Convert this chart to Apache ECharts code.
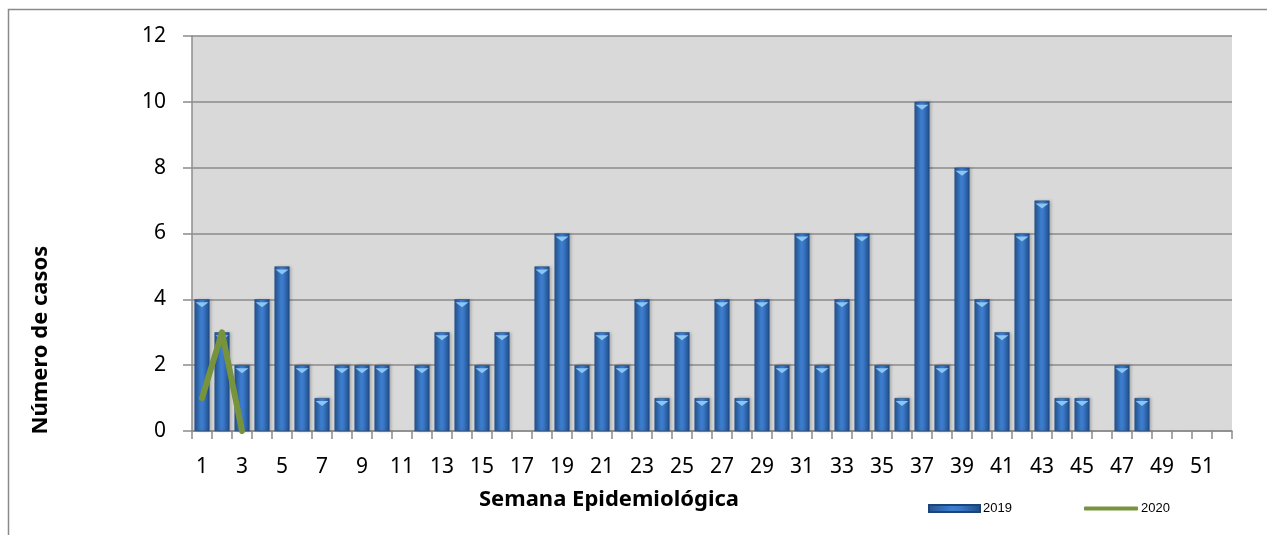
<!DOCTYPE html>
<html>
<head>
<meta charset="utf-8">
<script src="https://cdn.jsdelivr.net/npm/echarts@6/dist/echarts.min.js"></script>
<style>html,body{margin:0;padding:0;background:#fff;}#c{width:1267px;height:535px;}</style>
</head>
<body>
<div id="c"></div>
<script>
// Weeks 1..52
var weeks = [];
for (var w = 1; w <= 52; w++) weeks.push(String(w));

var cases2019 = [4,3,2,4,5,2,1,2,2,2,0,2,3,4,2,3,0,5,6,2,3,2,4,1,3,1,4,1,4,2,6,2,4,6,2,1,10,2,8,4,3,6,7,1,1,0,2,1,0,0,0,0];
var cases2020 = [1,3,0];

var yTicks = { min: 0, max: 12, interval: 2 };
var yTitle = 'Número de casos';
var xTitle = 'Semana Epidemiológica';

var FONT = '"Noto Sans", "Open Sans", sans-serif';

var chart = echarts.init(document.getElementById('c'), null, { renderer: 'canvas' });

var barGrad = new echarts.graphic.LinearGradient(0, 0, 1, 0, [
  { offset: 0, color: '#25548f' },
  { offset: 0.45, color: '#3d7ed0' },
  { offset: 0.6, color: '#3a78c7' },
  { offset: 1, color: '#204b86' }
]);

var barData = cases2019.map(function (v) { return v > 0 ? v : '-'; });
var capData = cases2019.map(function (v) { return v > 0 ? v : '-'; });

chart.setOption({
  backgroundColor: '#ffffff',
  animation: false,
  grid: { left: 192, right: 35, top: 36, bottom: 104, show: true, backgroundColor: '#d9d9d9', borderWidth: 0 },
  xAxis: {
    type: 'category',
    data: weeks,
    boundaryGap: true,
    axisLine: { show: true, lineStyle: { color: '#8c8c8c', width: 1.5 } },
    axisTick: { show: true, interval: 0, length: 8, lineStyle: { color: '#8c8c8c', width: 1.5 } },
    axisLabel: { interval: 1, color: '#000', fontSize: 21, fontFamily: FONT, margin: 26 },
    splitLine: { show: false }
  },
  yAxis: {
    type: 'value',
    min: yTicks.min, max: yTicks.max, interval: yTicks.interval,
    axisLine: { show: true, lineStyle: { color: '#8c8c8c', width: 1.5 } },
    axisTick: { show: true, length: 9, lineStyle: { color: '#8c8c8c', width: 1.5 } },
    axisLabel: { color: '#000', fontSize: 21, fontFamily: FONT, margin: 26 },
    splitLine: { show: true, lineStyle: { color: '#8a8a8a', width: 1.5 } }
  },
  legend: [
    {
      data: [{ name: '2019', icon: 'rect' }],
      left: 923, top: 497, itemWidth: 51, itemHeight: 7, itemGap: 5,
      textStyle: { fontFamily: '"Liberation Sans", Arial, sans-serif', fontSize: 13, color: '#000', padding: [0,0,0,-2] }
    },
    {
      data: [{ name: '2020', icon: 'roundRect', itemStyle: { color: '#77933c' } }],
      left: 1079, top: 497, itemWidth: 54, itemHeight: 4,
      textStyle: { fontFamily: '"Liberation Sans", Arial, sans-serif', fontSize: 13, color: '#000', padding: [0,0,0,-2] }
    }
  ],
  series: [
    {
      name: '2019',
      type: 'bar',
      data: barData,
      barWidth: 15,
      itemStyle: {
        color: barGrad,
        borderColor: '#1d4478',
        borderWidth: 0.5,
        shadowColor: 'rgba(0,0,0,0.25)',
        shadowBlur: 3,
        shadowOffsetX: 2,
        shadowOffsetY: 0
      },
      z: 2
    },
    {
      name: 'cap',
      type: 'pictorialBar',
      data: capData,
      symbol: 'triangle',
      symbolRotate: 180,
      symbolSize: [13, 5],
      symbolPosition: 'end',
      symbolOffset: [0, 3],
      itemStyle: { color: '#8cc4f2' },
      barGap: '-100%',
      z: 3,
      silent: true
    },
    {
      name: '2020',
      type: 'line',
      data: cases2020,
      symbol: 'none',
      showSymbol: false,
      lineStyle: { color: '#77933c', width: 6, cap: 'round', join: 'round' },
      itemStyle: { color: '#77933c' },
      z: 5
    }
  ],
  graphic: [
    {
      type: 'rect',
      shape: { x: 8.5, y: 9.5, width: 1400, height: 800 },
      style: { fill: 'none', stroke: '#8a8a8a', lineWidth: 1.5 },
      silent: true
    },
    {
      type: 'text',
      x: 41, y: 340,
      rotation: Math.PI / 2,
      style: { text: yTitle, fontFamily: FONT, fontWeight: 'bold', fontSize: 22, fill: '#000', align: 'center', verticalAlign: 'middle' }
    },
    {
      type: 'text',
      x: 609, y: 500,
      style: { text: xTitle, fontFamily: FONT, fontWeight: 'bold', fontSize: 22, fill: '#000', align: 'center', verticalAlign: 'middle' }
    }
  ]
});
</script>
</body>
</html>
